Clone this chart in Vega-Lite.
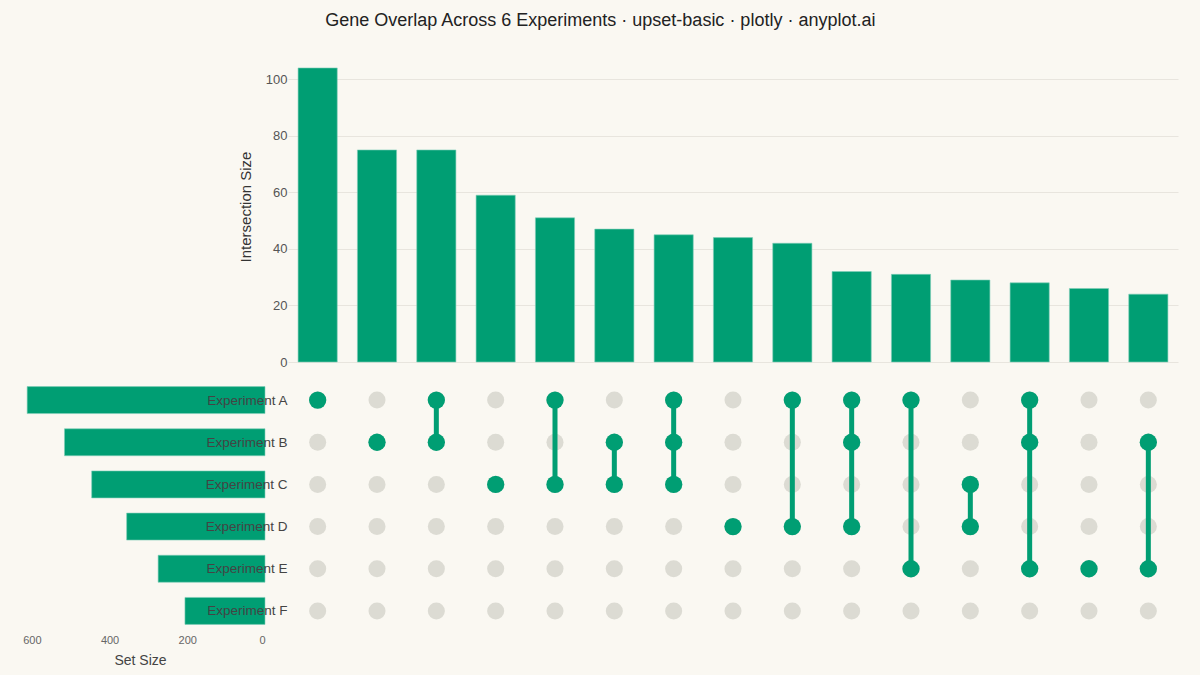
{
  "$schema": "https://vega.github.io/schema/vega-lite/v6.json",
  "background": "#FAF8F2",
  "padding": {"left": 22, "top": 12, "right": 26, "bottom": 8},
  "title": {
    "text": "Gene Overlap Across 6 Experiments · upset-basic · plotly · anyplot.ai",
    "font": "Liberation Sans",
    "fontSize": 18,
    "fontWeight": "normal",
    "color": "#222222",
    "anchor": "middle",
    "offset": 21
  },
  "config": {
    "view": {"stroke": null},
    "font": "Liberation Sans"
  },
  "datasets": {
    "inter": [
      {"c": 1, "n": 104, "sets": ["Experiment A"]},
      {"c": 2, "n": 75, "sets": ["Experiment B"]},
      {"c": 3, "n": 75, "sets": ["Experiment A", "Experiment B"]},
      {"c": 4, "n": 59, "sets": ["Experiment C"]},
      {"c": 5, "n": 51, "sets": ["Experiment A", "Experiment C"]},
      {"c": 6, "n": 47, "sets": ["Experiment B", "Experiment C"]},
      {"c": 7, "n": 45, "sets": ["Experiment A", "Experiment B", "Experiment C"]},
      {"c": 8, "n": 44, "sets": ["Experiment D"]},
      {"c": 9, "n": 42, "sets": ["Experiment A", "Experiment D"]},
      {"c": 10, "n": 32, "sets": ["Experiment A", "Experiment B", "Experiment D"]},
      {"c": 11, "n": 31, "sets": ["Experiment A", "Experiment E"]},
      {"c": 12, "n": 29, "sets": ["Experiment C", "Experiment D"]},
      {"c": 13, "n": 28, "sets": ["Experiment A", "Experiment B", "Experiment E"]},
      {"c": 14, "n": 26, "sets": ["Experiment E"]},
      {"c": 15, "n": 24, "sets": ["Experiment B", "Experiment E"]}
    ],
    "links": [
      {"c": 3, "top": "Experiment A", "bot": "Experiment B"},
      {"c": 5, "top": "Experiment A", "bot": "Experiment C"},
      {"c": 6, "top": "Experiment B", "bot": "Experiment C"},
      {"c": 7, "top": "Experiment A", "bot": "Experiment C"},
      {"c": 9, "top": "Experiment A", "bot": "Experiment D"},
      {"c": 10, "top": "Experiment A", "bot": "Experiment D"},
      {"c": 11, "top": "Experiment A", "bot": "Experiment E"},
      {"c": 12, "top": "Experiment C", "bot": "Experiment D"},
      {"c": 13, "top": "Experiment A", "bot": "Experiment E"},
      {"c": 15, "top": "Experiment B", "bot": "Experiment E"}
    ],
    "sizes": [
      {"set": "Experiment A", "n": 612},
      {"set": "Experiment B", "n": 516},
      {"set": "Experiment C", "n": 446},
      {"set": "Experiment D", "n": 356},
      {"set": "Experiment E", "n": 275},
      {"set": "Experiment F", "n": 206}
    ],
    "grid": [
      {"c": 1, "s": "Experiment A"}, {"c": 1, "s": "Experiment B"}, {"c": 1, "s": "Experiment C"}, {"c": 1, "s": "Experiment D"}, {"c": 1, "s": "Experiment E"}, {"c": 1, "s": "Experiment F"},
      {"c": 2, "s": "Experiment A"}, {"c": 2, "s": "Experiment B"}, {"c": 2, "s": "Experiment C"}, {"c": 2, "s": "Experiment D"}, {"c": 2, "s": "Experiment E"}, {"c": 2, "s": "Experiment F"},
      {"c": 3, "s": "Experiment A"}, {"c": 3, "s": "Experiment B"}, {"c": 3, "s": "Experiment C"}, {"c": 3, "s": "Experiment D"}, {"c": 3, "s": "Experiment E"}, {"c": 3, "s": "Experiment F"},
      {"c": 4, "s": "Experiment A"}, {"c": 4, "s": "Experiment B"}, {"c": 4, "s": "Experiment C"}, {"c": 4, "s": "Experiment D"}, {"c": 4, "s": "Experiment E"}, {"c": 4, "s": "Experiment F"},
      {"c": 5, "s": "Experiment A"}, {"c": 5, "s": "Experiment B"}, {"c": 5, "s": "Experiment C"}, {"c": 5, "s": "Experiment D"}, {"c": 5, "s": "Experiment E"}, {"c": 5, "s": "Experiment F"},
      {"c": 6, "s": "Experiment A"}, {"c": 6, "s": "Experiment B"}, {"c": 6, "s": "Experiment C"}, {"c": 6, "s": "Experiment D"}, {"c": 6, "s": "Experiment E"}, {"c": 6, "s": "Experiment F"},
      {"c": 7, "s": "Experiment A"}, {"c": 7, "s": "Experiment B"}, {"c": 7, "s": "Experiment C"}, {"c": 7, "s": "Experiment D"}, {"c": 7, "s": "Experiment E"}, {"c": 7, "s": "Experiment F"},
      {"c": 8, "s": "Experiment A"}, {"c": 8, "s": "Experiment B"}, {"c": 8, "s": "Experiment C"}, {"c": 8, "s": "Experiment D"}, {"c": 8, "s": "Experiment E"}, {"c": 8, "s": "Experiment F"},
      {"c": 9, "s": "Experiment A"}, {"c": 9, "s": "Experiment B"}, {"c": 9, "s": "Experiment C"}, {"c": 9, "s": "Experiment D"}, {"c": 9, "s": "Experiment E"}, {"c": 9, "s": "Experiment F"},
      {"c": 10, "s": "Experiment A"}, {"c": 10, "s": "Experiment B"}, {"c": 10, "s": "Experiment C"}, {"c": 10, "s": "Experiment D"}, {"c": 10, "s": "Experiment E"}, {"c": 10, "s": "Experiment F"},
      {"c": 11, "s": "Experiment A"}, {"c": 11, "s": "Experiment B"}, {"c": 11, "s": "Experiment C"}, {"c": 11, "s": "Experiment D"}, {"c": 11, "s": "Experiment E"}, {"c": 11, "s": "Experiment F"},
      {"c": 12, "s": "Experiment A"}, {"c": 12, "s": "Experiment B"}, {"c": 12, "s": "Experiment C"}, {"c": 12, "s": "Experiment D"}, {"c": 12, "s": "Experiment E"}, {"c": 12, "s": "Experiment F"},
      {"c": 13, "s": "Experiment A"}, {"c": 13, "s": "Experiment B"}, {"c": 13, "s": "Experiment C"}, {"c": 13, "s": "Experiment D"}, {"c": 13, "s": "Experiment E"}, {"c": 13, "s": "Experiment F"},
      {"c": 14, "s": "Experiment A"}, {"c": 14, "s": "Experiment B"}, {"c": 14, "s": "Experiment C"}, {"c": 14, "s": "Experiment D"}, {"c": 14, "s": "Experiment E"}, {"c": 14, "s": "Experiment F"},
      {"c": 15, "s": "Experiment A"}, {"c": 15, "s": "Experiment B"}, {"c": 15, "s": "Experiment C"}, {"c": 15, "s": "Experiment D"}, {"c": 15, "s": "Experiment E"}, {"c": 15, "s": "Experiment F"}
    ]
  },
  "columns": 2,
  "bounds": "flush",
  "spacing": {"row": 17, "column": 23},
  "resolve": {"scale": {"x": "independent", "y": "independent"}},
  "concat": [
    {
      "width": 239,
      "height": 311,
      "data": {"values": [{}]},
      "mark": "text",
      "encoding": {"text": {"value": ""}}
    },
    {
      "width": 890,
      "height": 311,
      "data": {"name": "inter"},
      "mark": {"type": "bar", "color": "#009E73", "stroke": "#7FCFB9", "strokeWidth": 0.6},
      "encoding": {
        "x": {
          "field": "c",
          "type": "ordinal",
          "scale": {"paddingInner": 0.34, "paddingOuter": 0.17},
          "axis": null
        },
        "y": {
          "field": "n",
          "type": "quantitative",
          "scale": {"domain": [0, 110], "nice": false},
          "axis": {
            "values": [0, 20, 40, 60, 80, 100],
            "title": "Intersection Size",
            "titleFontSize": 15,
            "titleFontWeight": "normal",
            "titleColor": "#333333",
            "titlePadding": 12,
            "labelFontSize": 13,
            "labelColor": "#555555",
            "labelPadding": 1,
            "ticks": false,
            "domain": false,
            "gridColor": "#E8E5DE",
            "gridWidth": 1
          }
        }
      }
    },
    {
      "width": 239,
      "height": 253,
      "data": {"name": "sizes"},
      "mark": {"type": "bar", "color": "#009E73", "stroke": "#7FCFB9", "strokeWidth": 0.6},
      "encoding": {
        "y": {
          "field": "set",
          "type": "nominal",
          "sort": null,
          "scale": {"paddingInner": 0.36, "paddingOuter": 0.18},
          "axis": null
        },
        "x": {
          "field": "n",
          "type": "quantitative",
          "scale": {"domain": [0, 615], "nice": false, "reverse": true},
          "axis": {
            "orient": "bottom",
            "values": [0, 200, 400, 600],
            "title": "Set Size",
            "titleFontSize": 14,
            "titleFontWeight": "normal",
            "titleColor": "#444444",
            "titlePadding": 8,
            "titleX": 114,
            "titleAlign": "center",
            "labelFontSize": 11,
            "labelColor": "#666666",
            "labelPadding": 2,
            "ticks": false,
            "domain": false,
            "grid": false
          }
        }
      }
    },
    {
      "width": 890,
      "height": 253,
      "layer": [
        {
          "data": {"name": "grid"},
          "mark": {"type": "circle", "size": 290, "color": "#DCDBD3", "opacity": 1},
          "encoding": {
            "x": {"field": "c", "type": "ordinal", "scale": {"type": "point", "padding": 0.5}, "axis": null},
            "y": {
              "field": "s",
              "type": "nominal",
              "sort": null,
              "scale": {"type": "point", "padding": 0.5},
              "axis": {
                "title": null,
                "labelFontSize": 13.5,
                "labelColor": "#444444",
                "labelPadding": 1,
                "ticks": false,
                "domain": false,
                "grid": false
              }
            }
          }
        },
        {
          "data": {"name": "links"},
          "mark": {"type": "rule", "color": "#009E73", "strokeWidth": 5},
          "encoding": {
            "x": {"field": "c", "type": "ordinal"},
            "y": {"field": "top", "type": "nominal"},
            "y2": {"field": "bot"}
          }
        },
        {
          "data": {"name": "inter"},
          "transform": [{"flatten": ["sets"]}],
          "mark": {"type": "circle", "size": 300, "color": "#009E73", "opacity": 1},
          "encoding": {
            "x": {"field": "c", "type": "ordinal"},
            "y": {"field": "sets", "type": "nominal"}
          }
        }
      ]
    }
  ]
}
